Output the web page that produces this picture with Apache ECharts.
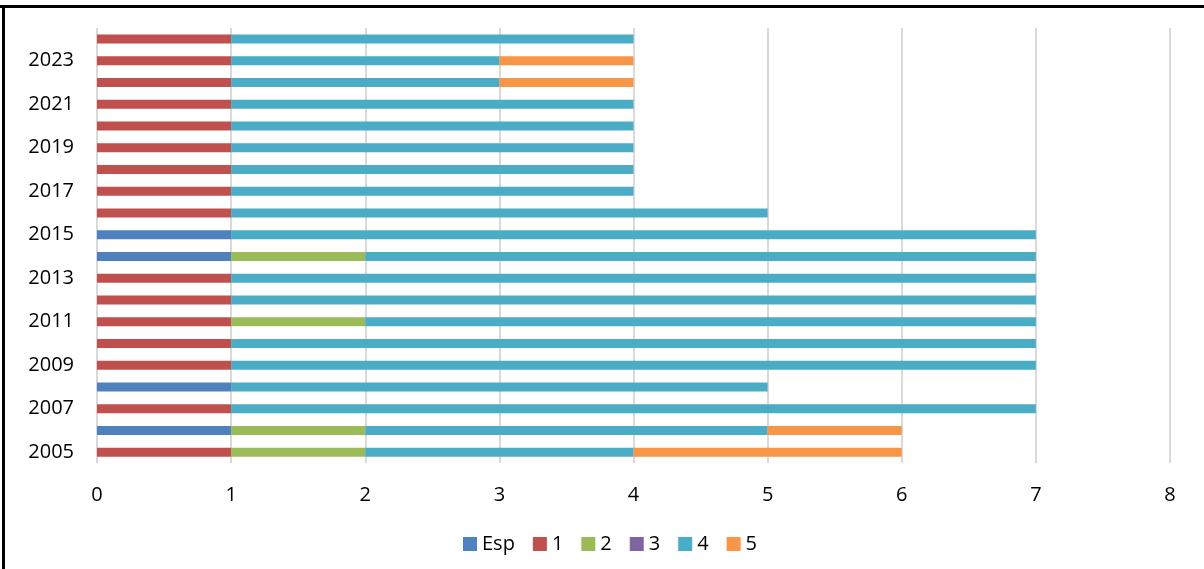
<!DOCTYPE html>
<html>
<head>
<meta charset="utf-8">
<script src="https://cdn.jsdelivr.net/npm/echarts@6/dist/echarts.min.js"></script>
<style>
  html, body { margin: 0; padding: 0; background: #ffffff; }
  #chart { width: 1204px; height: 569px; }
</style>
</head>
<body>
<div id="chart"></div>
<script>
// Years, bottom to top
const years = ['2005','2006','2007','2008','2009','2010','2011','2012','2013','2014',
               '2015','2016','2017','2018','2019','2020','2021','2022','2023','2024'];

// Counts per level for each year
const esp = [0,1,0,1,0,0,0,0,0,1,1,0,0,0,0,0,0,0,0,0];
const lv1 = [1,0,1,0,1,1,1,1,1,0,0,1,1,1,1,1,1,1,1,1];
const lv2 = [1,1,0,0,0,0,1,0,0,1,0,0,0,0,0,0,0,0,0,0];
const lv3 = [0,0,0,0,0,0,0,0,0,0,0,0,0,0,0,0,0,0,0,0];
const lv4 = [2,3,6,4,6,6,5,6,6,5,6,4,3,3,3,3,3,2,2,3];
const lv5 = [2,1,0,0,0,0,0,0,0,0,0,0,0,0,0,0,0,1,1,0];

const seriesNames = ['Esp','1','2','3','4','5'];
const seriesData = [esp, lv1, lv2, lv3, lv4, lv5];
const colors = ['#4F81BD','#C0504D','#9BBB59','#8064A2','#4BACC6','#F79646'];

const font = '"Open Sans", "Noto Sans", sans-serif';

const chart = echarts.init(document.getElementById('chart'), null, { renderer: 'canvas' });

chart.setOption({
  animation: false,
  color: colors,
  grid: { left: 97, right: 34, top: 28, bottom: 106 },
  xAxis: {
    type: 'value',
    min: 0, max: 8, interval: 1,
    axisLine: { show: false },
    axisTick: { show: false },
    axisLabel: { color: '#000000', fontSize: 20, fontFamily: font, margin: 22 },
    splitLine: { show: true, lineStyle: { color: '#d9d9d9', width: 2 } }
  },
  yAxis: {
    type: 'category',
    data: years,
    axisLine: { show: false },
    axisTick: { show: false },
    axisLabel: { color: '#000000', fontSize: 20, fontFamily: font, margin: 23, interval: 1 }
  },
  legend: {
    data: seriesNames,
    left: 458, top: 529,
    itemWidth: 14, itemHeight: 14, itemGap: 18,
    icon: 'rect',
    textStyle: { color: '#000000', fontSize: 20, fontFamily: font }
  },
  graphic: [
    { type: 'rect', shape: { x: 0, y: 5, width: 1204, height: 3 }, style: { fill: '#000000' }, silent: true },
    { type: 'rect', shape: { x: 2, y: 5, width: 3, height: 564 }, style: { fill: '#000000' }, silent: true }
  ],
  series: seriesNames.map((name, i) => ({
    name: name,
    type: 'bar',
    stack: 'total',
    barWidth: 9,
    data: seriesData[i],
    itemStyle: { color: colors[i] }
  }))
});
</script>
</body>
</html>
